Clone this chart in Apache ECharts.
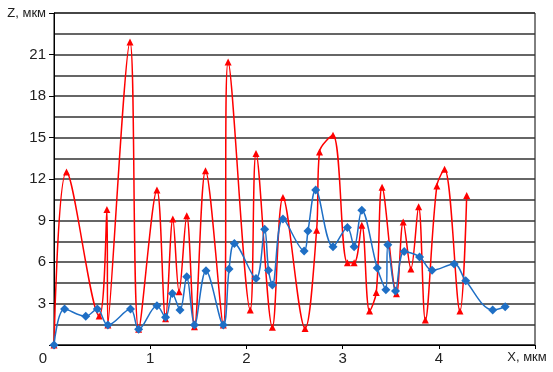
<!DOCTYPE html>
<html>
<head>
<meta charset="utf-8">
<script src="https://cdn.jsdelivr.net/npm/echarts@6/dist/echarts.min.js"></script>
<style>
  html, body { margin: 0; padding: 0; background: #fff; }
  #chart { width: 553px; height: 372px; }
</style>
</head>
<body>
<div id="chart"></div>
<script>
// profile data, X in мкм, Z in мкм
const redX = [0, 0.13, 0.47, 0.55, 0.56, 0.79, 0.88, 1.07, 1.16, 1.235, 1.30, 1.38, 1.46, 1.575, 1.76, 1.81, 2.04, 2.10, 2.27, 2.38, 2.61, 2.73, 2.76, 2.90, 3.05, 3.12, 3.20, 3.28, 3.35, 3.41, 3.56, 3.63, 3.71, 3.79, 3.86, 3.98, 4.06, 4.22, 4.29]
const redZ = [0, 12.5, 2.1, 9.8, 1.44, 21.9, 1.13, 11.2, 1.9, 9.1, 3.85, 9.34, 1.32, 12.6, 1.44, 20.45, 2.53, 13.84, 1.28, 10.66, 1.2, 8.3, 13.96, 15.16, 5.94, 5.94, 8.66, 2.45, 3.8, 11.4, 3.7, 8.9, 5.5, 10.0, 1.8, 11.5, 12.7, 2.45, 10.8]

const blueX = [0, 0.11, 0.33, 0.45, 0.56, 0.795, 0.88, 1.07, 1.16, 1.23, 1.31, 1.38, 1.46, 1.58, 1.76, 1.82, 1.875, 2.10, 2.19, 2.23, 2.27, 2.38, 2.60, 2.64, 2.72, 2.90, 3.05, 3.12, 3.20, 3.36, 3.45, 3.47, 3.55, 3.64, 3.80, 3.93, 4.16, 4.28, 4.56, 4.69]
const blueZ = [0, 2.6, 2.07, 2.6, 1.44, 2.6, 1.13, 2.84, 2.0, 3.73, 2.53, 4.93, 1.44, 5.37, 1.44, 5.49, 7.34, 4.8, 8.37, 5.4, 4.33, 9.1, 6.8, 8.25, 11.2, 7.1, 8.5, 7.1, 9.75, 5.56, 4.0, 7.24, 3.9, 6.76, 6.37, 5.4, 5.85, 4.64, 2.53, 2.77]

const xTicks = ['0', '1', '2', '3', '4']
const yTicks = ['3', '6', '9', '12', '15', '18', '21']
const xName = 'X, мкм'
const yName = 'Z, мкм'

const pairs = (xs, ys) => xs.map((x, i) => [x, ys[i]])

const chart = echarts.init(document.getElementById('chart'))

const option = {
  animation: false,
  backgroundColor: '#fff',
  textStyle: { fontFamily: 'Liberation Sans, Arial, sans-serif' },
  grid: {
    left: 54, right: 18, top: 13, bottom: 27,
    show: true, borderColor: '#000', borderWidth: 1
  },
  xAxis: {
    type: 'value',
    min: 0, max: 5, interval: 1,
    axisLine: { show: true, onZero: false, lineStyle: { color: '#000', width: 1 } },
    axisTick: { show: true, length: 4, lineStyle: { color: '#000' } },
    splitLine: { show: false },
    axisLabel: {
      margin: 6,
      color: '#222',
      fontSize: 15,
      formatter: v => {
        if (v === 0) return '{z|' + xTicks[0] + '}'
        if (v === 5) return '{n|' + xName + '}'
        return xTicks[v] || ''
      },
      rich: {
        z: { fontSize: 15, color: '#222', padding: [0, 22, 0, 0] },
        n: { fontSize: 13, color: '#222', padding: [0, 16, 0, 0] }
      }
    }
  },
  yAxis: {
    type: 'value',
    min: 0, max: 24, interval: 3,
    axisLine: { show: true, lineStyle: { color: '#000', width: 1 } },
    axisTick: { show: true, length: 5, lineStyle: { color: '#000' } },
    splitLine: { show: true, lineStyle: { color: '#333', width: 1.5 } },
    minorTick: { show: false, splitNumber: 2 },
    minorSplitLine: { show: true, lineStyle: { color: '#333', width: 1.5 } },
    axisLabel: {
      margin: 8,
      color: '#222',
      fontSize: 15,
      formatter: v => {
        if (v === 24) return '{n|' + yName + '}'
        const s = String(v)
        return yTicks.includes(s) ? s : ''
      },
      rich: {
        n: { fontSize: 13, color: '#222' }
      }
    }
  },
  series: [
    {
      name: 'red',
      type: 'line',
      data: pairs(redX, redZ),
      smooth: 0.35,
      symbol: 'triangle',
      symbolSize: 7,
      lineStyle: { color: '#ff0000', width: 1.5 },
      itemStyle: { color: '#ff0000' },
      z: 3
    },
    {
      name: 'blue',
      type: 'line',
      data: pairs(blueX, blueZ),
      smooth: 0.35,
      symbol: 'diamond',
      symbolSize: 9,
      lineStyle: { color: '#1f6fc5', width: 1.5 },
      itemStyle: { color: '#1f6fc5' },
      z: 4
    }
  ]
}

chart.setOption(option)
</script>
</body>
</html>
